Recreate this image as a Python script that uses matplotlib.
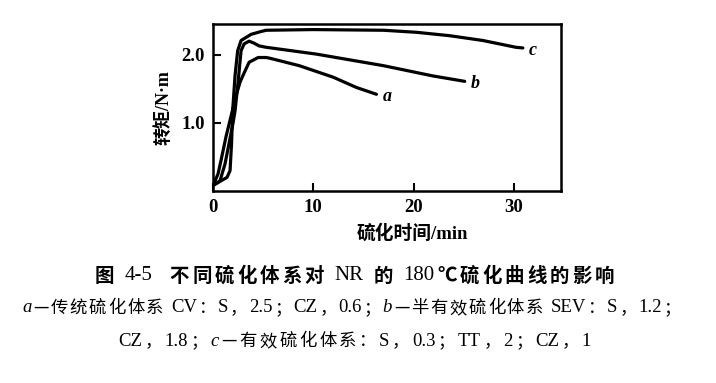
import matplotlib
matplotlib.use("Agg")
import matplotlib.pyplot as plt

# cure curves (time in min, torque in N*m)
t_a = [0, 0.5, 0.8, 1.3, 1.8, 2.3, 2.7, 3.0, 3.6, 4.5, 5.3, 5.65, 8.6, 12, 14.3, 16.3]
m_a = [0.08, 0.25, 0.45, 0.8, 1.1, 1.4, 1.6, 1.7, 1.89, 1.96, 1.96, 1.95, 1.84, 1.67, 1.52, 1.42]

t_b = [0, 0.7, 1.2, 1.6, 2.0, 2.2, 2.5, 2.8, 3.1, 3.6, 4.1, 4.6, 5.3, 10.3, 17, 21.9, 25.1]
m_b = [0.08, 0.15, 0.4, 0.7, 1.0, 1.18, 1.6, 2.06, 2.16, 2.2, 2.17, 2.13, 2.11, 2.01, 1.84, 1.69, 1.61]

t_c = [0, 0.8, 1.4, 1.7, 1.85, 1.96, 2.2, 2.46, 2.8, 3.8, 4.75, 5.3, 10, 17, 20.3, 23.6, 26.9, 30.2, 30.9]
m_c = [0.08, 0.15, 0.2, 0.3, 0.7, 1.18, 1.7, 2.06, 2.21, 2.3, 2.34, 2.36, 2.37, 2.36, 2.33, 2.28, 2.21, 2.11, 2.10]

curve_names = ["a", "b", "c"]
x_ticks = [0, 10, 20, 30]
y_ticks = [1.0, 2.0]
y_tick_labels = ["1.0", "2.0"]

LAT = ["Liberation Serif", "Noto Sans CJK SC", "DejaVu Sans"]
CJK = ["Noto Sans CJK SC", "DejaVu Sans"]

W, H = 716, 383
fig = plt.figure(figsize=(W / 100, H / 100), dpi=100)
ax = fig.add_axes([0.2975, 0.5013, 0.486, 0.4357])

for t, m in [(t_a, m_a), (t_b, m_b), (t_c, m_c)]:
    ax.plot(t, m, color="black", lw=2.3, solid_capstyle="round", solid_joinstyle="round")

# curve letters at the end of each curve
ends = [(t_a[-1], m_a[-1]), (t_b[-1], m_b[-1]), (t_c[-1], m_c[-1])]
for name, (xe, ye) in zip(curve_names, ends):
    ax.text(xe + 0.6, ye - 0.03, name, family=LAT, style="italic", weight="bold",
            fontsize=13, ha="left", va="center")

ax.set_xlim(0, 34.7)
ax.set_ylim(0, 2.45)
ax.set_xticks(x_ticks)
ax.set_yticks(y_ticks)
ax.set_yticklabels(y_tick_labels)
ax.tick_params(direction="in", length=6, width=1.5, pad=6)
for lab in ax.get_xticklabels() + ax.get_yticklabels():
    lab.set_family(LAT)
    lab.set_fontweight("bold")
    lab.set_fontsize(13.5)
for sp in ax.spines.values():
    sp.set_linewidth(1.8)

ax.set_xlabel("硫化时间/min", family=LAT, fontsize=13.5, weight="bold")
ax.xaxis.set_label_coords(0.572, -0.2)
ax.set_ylabel("转矩/N·m", family=LAT, fontsize=13, weight="bold", labelpad=6)


def tokens(s):
    """splits a string into CJK chars, latin runs and spaces"""
    out, buf = [], ""
    for ch in s:
        if ch == " " or ord(ch) > 0x2000:
            if buf:
                out.append(buf)
                buf = ""
            out.append(ch)
        else:
            buf += ch
    if buf:
        out.append(buf)
    return out


def draw_line(yc, pieces, x0, x1, size, lat_size, cjk_weight):
    """draws a caption line token by token, spread evenly between x0 and x1 (figure px).
    pieces are (text, italic) tuples"""
    r = fig.canvas.get_renderer()
    objs = []
    for s, it in pieces:
        for tk in tokens(s):
            if tk == " ":
                objs.append((None, size * 0.3))
                continue
            wide = ord(tk[0]) > 0x2000
            o = fig.text(0, 1 - yc / H, tk, fontsize=size if wide else lat_size,
                         family=CJK if wide else LAT,
                         weight=cjk_weight if wide else "normal",
                         style="italic" if it else "normal",
                         va="center", ha="left")
            objs.append((o, None))
    widths = []
    for o, w in objs:
        widths.append(w if o is None else o.get_window_extent(renderer=r).width)
    gap = (x1 - x0 - sum(widths)) / (len(objs) - 1)
    x = x0
    for (o, _), w in zip(objs, widths):
        if o is not None:
            o.set_x(x / W)
        x += w + gap


draw_line(276, [("图 4-5  不同硫化体系对 NR 的 180℃硫化曲线的影响", False)],
          95, 614, 14, 15, "bold")
draw_line(308, [("a", True), ("—传统硫化体系 CV：S，2.5；CZ，0.6；", False),
                ("b", True), ("—半有效硫化体系 SEV：S，1.2；", False)],
          22, 681, 12.5, 13.5, "medium")
draw_line(341, [("CZ，1.8；", False), ("c", True),
                ("—有效硫化体系：S，0.3；TT，2；CZ，1", False)],
          118, 591, 12.5, 13.5, "medium")

fig.savefig("out.png", dpi=100)
